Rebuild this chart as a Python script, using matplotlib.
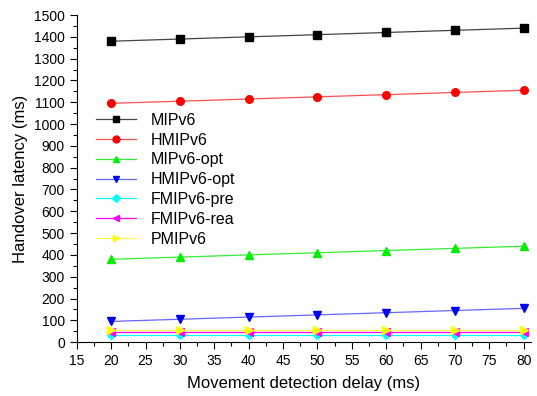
import matplotlib
matplotlib.use("Agg")
import matplotlib.pyplot as plt
from matplotlib.ticker import MultipleLocator

plt.rcParams['font.family'] = ['Liberation Sans', 'DejaVu Sans']

delay = [20, 30, 40, 50, 60, 70, 80]
mipv6 = [1380, 1390, 1400, 1410, 1420, 1430, 1440]
hmipv6 = [1095, 1105, 1115, 1125, 1135, 1145, 1155]
mipv6_opt = [380, 390, 400, 410, 420, 430, 440]
hmipv6_opt = [95, 105, 115, 125, 135, 145, 155]
fmipv6_pre = [35, 35, 35, 35, 35, 35, 35]
fmipv6_rea = [45, 45, 45, 45, 45, 45, 45]
pmipv6 = [55, 55, 55, 55, 55, 55, 55]

series = [
    ("MIPv6", mipv6, "s", "black", "#444444"),
    ("HMIPv6", hmipv6, "o", "red", "#ff5050"),
    ("MIPv6-opt", mipv6_opt, "^", "#00ee00", "#33ee33"),
    ("HMIPv6-opt", hmipv6_opt, "v", "#0000ee", "#6666ff"),
    ("FMIPv6-pre", fmipv6_pre, "D", "cyan", "cyan"),
    ("FMIPv6-rea", fmipv6_rea, "<", "magenta", "magenta"),
    ("PMIPv6", pmipv6, ">", "yellow", "#ffff44"),
]

fig = plt.figure(figsize=(5.37, 3.96), dpi=100)
ax = fig.add_axes([0.143, 0.136, 0.845, 0.826])
for name, vals, mk, mc, lc in series:
    ms = 4.5 if mk == "D" else 5.5
    ax.plot(delay, vals, color=lc, lw=0.9, marker=mk, markersize=ms,
            markerfacecolor=mc, markeredgecolor=mc, label=name)

ax.set_xlim(15, 81)
ax.set_ylim(0, 1500)
ax.xaxis.set_major_locator(MultipleLocator(5))
ax.xaxis.set_minor_locator(MultipleLocator(2.5))
ax.yaxis.set_major_locator(MultipleLocator(100))
ax.yaxis.set_minor_locator(MultipleLocator(50))
ax.spines['top'].set_visible(False)
ax.spines['right'].set_visible(False)
ax.tick_params(which='major', direction='out', length=5, width=0.8, labelsize=10)
ax.tick_params(which='minor', direction='out', length=3, width=0.8)
ax.set_xlabel("Movement detection delay (ms)", fontsize=12, labelpad=6)
ax.set_ylabel("Handover latency (ms)", fontsize=12)

ax.legend(loc='upper left', bbox_to_anchor=(0.011, 0.745), frameon=False,
          fontsize=11.5, handlelength=2.5, labelspacing=0.3, handletextpad=0.9,
          markerscale=0.9)

fig.savefig("out.png", dpi=100)
